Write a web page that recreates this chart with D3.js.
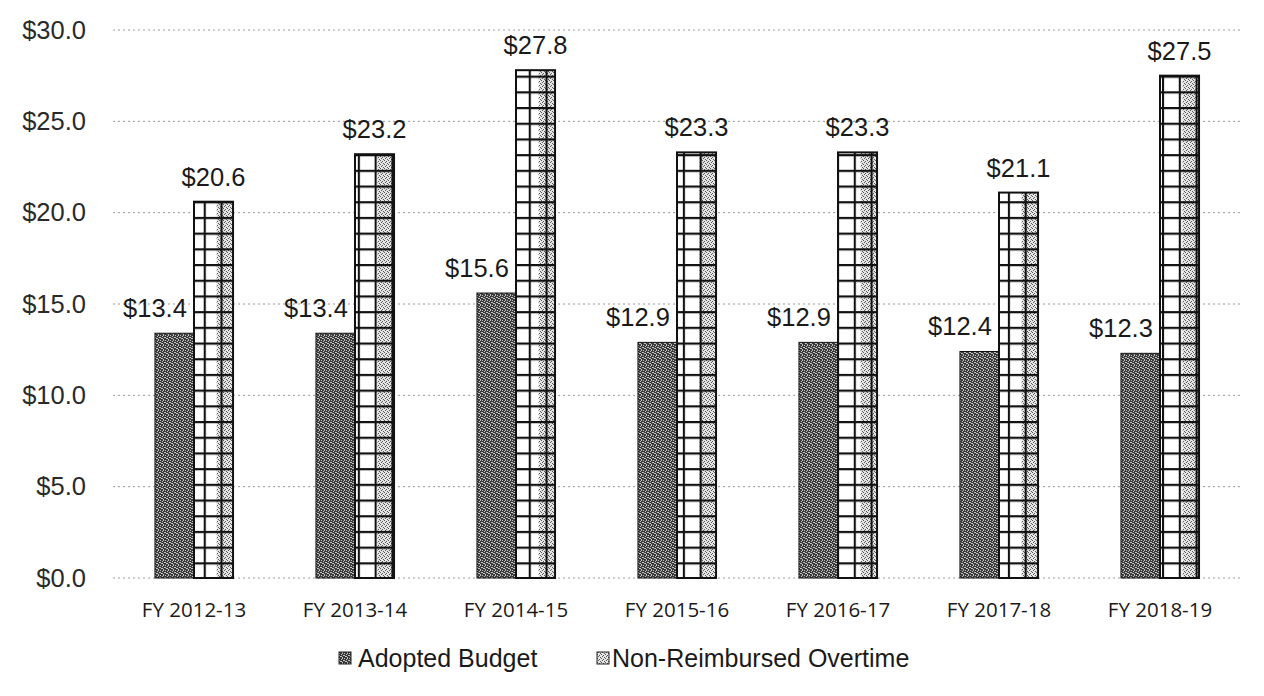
<!DOCTYPE html>
<html>
<head>
<meta charset="utf-8">
<script src="https://cdn.jsdelivr.net/npm/d3@7"></script>
<style>
  body { margin: 0; background: #fff; }
  svg { display: block; }
</style>
</head>
<body>
<div class="chart"></div>
<script>
// Adopted budget vs non-reimbursed overtime ($ millions)

const YEARS = ['FY 2012-13', 'FY 2013-14', 'FY 2014-15', 'FY 2015-16', 'FY 2016-17', 'FY 2017-18', 'FY 2018-19']
const ADOPTED = [13.4, 13.4, 15.6, 12.9, 12.9, 12.4, 12.3]
const OVERTIME = [20.6, 23.2, 27.8, 23.3, 23.3, 21.1, 27.5]
const SERIES = ['Adopted Budget', 'Non-Reimbursed Overtime']
const Y_TICKS = [0, 5, 10, 15, 20, 25, 30]

var svgWidth = 1264
var svgHeight = 696

var svg = d3.select('.chart')
    .append('svg')
    .attr('width', svgWidth)
    .attr('height', svgHeight)

var defs = svg.append('defs')

// dark speckled fill (scanned halftone look)
var dark = defs.append('pattern')
    .attr('id', 'dark')
    .attr('patternUnits', 'userSpaceOnUse')
    .attr('width', 5).attr('height', 5)
dark.append('rect').attr('width', 5).attr('height', 5).attr('fill', '#3a3a3a')
var darkDots = [[0, 0], [2, 1], [4, 2], [1, 3], [3, 4], [0, 2], [3, 0], [2, 3]]
darkDots.forEach(d => dark.append('rect')
    .attr('x', d[0]).attr('y', d[1]).attr('width', 1).attr('height', 1)
    .attr('fill', '#c4c4c4'))

// light speckle for the shaded column of the overtime bars
var light = defs.append('pattern')
    .attr('id', 'light')
    .attr('patternUnits', 'userSpaceOnUse')
    .attr('width', 4).attr('height', 4)
light.append('rect').attr('width', 4).attr('height', 4).attr('fill', '#e6e6e6')
var lightDots = [[0, 0], [2, 1], [1, 2], [3, 3]]
lightDots.forEach(d => light.append('rect')
    .attr('x', d[0]).attr('y', d[1]).attr('width', 1).attr('height', 1)
    .attr('fill', '#555'))

var x0 = d3.scaleBand()
    .domain(YEARS)
    .range([113.5, 1240.5])
    .paddingInner(0.515)
    .paddingOuter(0.2575)

var x1 = d3.scaleBand()
    .domain(SERIES)
    .range([0, x0.bandwidth()])

var y = d3.scaleLinear()
    .domain([0, 30])
    .range([578, 30])

// gridlines
svg.append('g')
    .selectAll('line')
    .data(Y_TICKS)
    .enter()
    .append('line')
    .attr('x1', 113).attr('x2', 1241)
    .attr('y1', d => y(d)).attr('y2', d => y(d))
    .attr('stroke', '#9a9a9a')
    .attr('stroke-width', 1)
    .attr('stroke-dasharray', '2,3')

// y axis labels
var yAxis = svg.append('g')
    .attr('transform', 'translate(86, 0)')
    .call(d3.axisLeft(y).tickValues(Y_TICKS).tickSize(0).tickPadding(0)
        .tickFormat(d => '$' + d3.format('.1f')(d)))
yAxis.select('.domain').remove()
yAxis.selectAll('text')
    .attr('font-family', 'Liberation Sans, Arial, sans-serif')
    .attr('font-size', '25.5px')
    .attr('fill', '#2a2a2a')

// x axis labels
var xAxis = svg.append('g')
    .attr('transform', `translate(0, ${y(0)})`)
    .call(d3.axisBottom(x0).tickSize(0).tickPadding(0))
xAxis.select('.domain').remove()
xAxis.selectAll('text')
    .attr('dy', null)
    .attr('y', 39)
    .attr('font-family', 'Open Sans, sans-serif')
    .attr('font-size', '20.5px')
    .attr('fill', '#1a1a1a')

var rows = YEARS.map((yr, i) => ({ year: yr, adopted: ADOPTED[i], overtime: OVERTIME[i] }))

var groups = svg.selectAll('.grp')
    .data(rows)
    .enter()
    .append('g')
    .attr('class', 'grp')
    .attr('transform', d => `translate(${x0(d.year)}, 0)`)

var w = x1.bandwidth()

// adopted budget bars
groups.append('rect')
    .attr('x', x1(SERIES[0]))
    .attr('y', d => y(d.adopted))
    .attr('width', w)
    .attr('height', d => y(0) - y(d.adopted))
    .attr('fill', 'url(#dark)')
    .attr('stroke', '#111')
    .attr('stroke-width', 1)

// per-bar grid patterns so the cells line up with each bar
rows.forEach((d, i) => {
    var p = defs.append('pattern')
        .attr('id', 'grid' + i)
        .attr('patternUnits', 'userSpaceOnUse')
        .attr('x', x0(d.year) + x1(SERIES[1]) + w * 0.15)
        .attr('y', y(0))
        .attr('width', w * 0.43)
        .attr('height', 15.7)
    p.append('path')
        .attr('d', `M1,0V15.7M0,1H${w * 0.43}`)
        .attr('stroke', '#111')
        .attr('stroke-width', 2.2)
        .attr('fill', 'none')
})

// overtime bars: white base, shaded right column, grid on top
groups.append('rect')
    .attr('x', x1(SERIES[1]))
    .attr('y', d => y(d.overtime))
    .attr('width', w)
    .attr('height', d => y(0) - y(d.overtime))
    .attr('fill', '#fff')

groups.append('rect')
    .attr('x', x1(SERIES[1]) + w * 0.58)
    .attr('y', d => y(d.overtime))
    .attr('width', w * 0.42)
    .attr('height', d => y(0) - y(d.overtime))
    .attr('fill', 'url(#light)')

groups.append('rect')
    .attr('x', x1(SERIES[1]))
    .attr('y', d => y(d.overtime))
    .attr('width', w)
    .attr('height', d => y(0) - y(d.overtime))
    .attr('fill', (d, i) => `url(#grid${i})`)
    .attr('stroke', '#111')
    .attr('stroke-width', 2)

// value labels
groups.append('text')
    .attr('x', x1(SERIES[0]))
    .attr('y', d => y(d.adopted) - 16)
    .attr('text-anchor', 'middle')
    .attr('font-family', 'Liberation Sans, Arial, sans-serif')
    .attr('font-size', '25.5px')
    .attr('fill', '#1a1a1a')
    .text(d => '$' + d3.format('.1f')(d.adopted))

groups.append('text')
    .attr('x', x1(SERIES[1]) + w / 2)
    .attr('y', d => y(d.overtime) - 16)
    .attr('text-anchor', 'middle')
    .attr('font-family', 'Liberation Sans, Arial, sans-serif')
    .attr('font-size', '25.5px')
    .attr('fill', '#1a1a1a')
    .text(d => '$' + d3.format('.1f')(d.overtime))

// legend
var legendX = [339, 597]
var legendFill = ['url(#dark)', 'url(#light)']
var legend = svg.selectAll('.leg')
    .data(SERIES)
    .enter()
    .append('g')
    .attr('class', 'leg')
    .attr('transform', (d, i) => `translate(${legendX[i]}, 658)`)

legend.append('rect')
    .attr('x', 0).attr('y', -6)
    .attr('width', 12).attr('height', 12)
    .attr('fill', (d, i) => legendFill[i])
    .attr('stroke', '#222')
    .attr('stroke-width', 1)

legend.append('text')
    .attr('x', (d, i) => i == 0 ? 19 : 15)
    .attr('y', 9)
    .attr('font-family', 'Liberation Sans, Arial, sans-serif')
    .attr('font-size', '25px')
    .attr('fill', '#1a1a1a')
    .text(d => d)
</script>
</body>
</html>
